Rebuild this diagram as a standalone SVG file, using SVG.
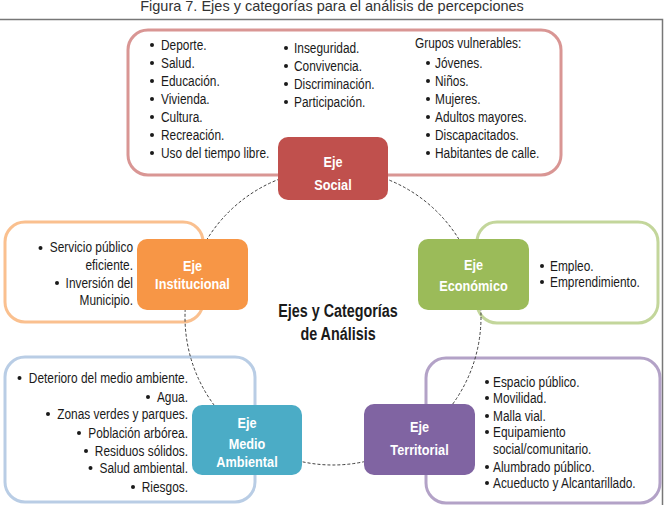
<svg xmlns="http://www.w3.org/2000/svg" width="664" height="505" viewBox="0 0 664 505">
<style>
.t{font-family:"Liberation Sans",Arial,sans-serif;font-size:14.5px;fill:#1a1a1a}
.r{text-anchor:end}
.n{font-family:"Liberation Sans",Arial,sans-serif;font-size:15.5px;font-weight:bold;fill:#fff;text-anchor:middle}
.c{font-family:"Liberation Sans",Arial,sans-serif;font-size:17.5px;font-weight:bold;fill:#1a1a1a;text-anchor:middle}
.title{font-family:"Liberation Sans",Arial,sans-serif;font-size:14.5px;fill:#333;text-anchor:middle}
.box{fill:none;stroke-width:3}
.b{fill:#1a1a1a}
</style>
<rect width="664" height="505" fill="#fff"/>
<text class="title" x="332" y="11">Figura 7. Ejes y categorías para el análisis de percepciones</text>
<path d="M0 19.5H662.5V505" fill="none" stroke="#777" stroke-width="1.5"/>

<g id="social-box">
<rect class="box" x="128" y="30" width="433" height="145" rx="20" stroke="#d99694"/>
<g class="b"><circle cx="152" cy="45" r="2"/><circle cx="152" cy="63" r="2"/><circle cx="152" cy="81" r="2"/><circle cx="152" cy="99" r="2"/><circle cx="152" cy="117" r="2"/><circle cx="152" cy="135" r="2"/><circle cx="152" cy="153" r="2"/>
<circle cx="286" cy="48" r="2"/><circle cx="286" cy="66" r="2"/><circle cx="286" cy="84" r="2"/><circle cx="286" cy="102" r="2"/>
<circle cx="428" cy="63" r="2"/><circle cx="428" cy="81" r="2"/><circle cx="428" cy="99" r="2"/><circle cx="428" cy="117" r="2"/><circle cx="428" cy="135" r="2"/><circle cx="428" cy="153" r="2"/></g>
<g transform="scale(0.82 1)">
<text class="t" x="196.34" y="50">Deporte.</text>
<text class="t" x="196.34" y="68">Salud.</text>
<text class="t" x="196.34" y="86">Educación.</text>
<text class="t" x="196.34" y="104">Vivienda.</text>
<text class="t" x="196.34" y="122">Cultura.</text>
<text class="t" x="196.34" y="140">Recreación.</text>
<text class="t" x="196.34" y="158">Uso del tiempo libre.</text>
<text class="t" x="358.54" y="53">Inseguridad.</text>
<text class="t" x="358.54" y="71">Convivencia.</text>
<text class="t" x="358.54" y="89">Discriminación.</text>
<text class="t" x="358.54" y="107">Participación.</text>
<text class="t" x="506.1" y="48">Grupos vulnerables:</text>
<text class="t" x="530.49" y="68">Jóvenes.</text>
<text class="t" x="530.49" y="86">Niños.</text>
<text class="t" x="530.49" y="104">Mujeres.</text>
<text class="t" x="530.49" y="122">Adultos mayores.</text>
<text class="t" x="530.49" y="140">Discapacitados.</text>
<text class="t" x="530.49" y="158">Habitantes de calle.</text>
</g>
</g>

<g id="institucional-box">
<rect class="box" x="5" y="222" width="198" height="100" rx="20" stroke="#fac08f"/>
<g class="b"><circle cx="40.5" cy="248" r="2"/><circle cx="57" cy="283" r="2"/></g>
<g transform="scale(0.82 1)">
<text class="t r" x="162.2" y="252">Servicio público</text>
<text class="t r" x="162.2" y="270">eficiente.</text>
<text class="t r" x="162.2" y="288">Inversión del</text>
<text class="t r" x="162.2" y="305">Municipio.</text>
</g>
</g>

<g id="economico-box">
<rect class="box" x="477" y="222" width="181" height="101" rx="20" stroke="#c3d69b"/>
<g class="b"><circle cx="542" cy="266" r="2"/><circle cx="542" cy="282" r="2"/></g>
<g transform="scale(0.82 1)">
<text class="t" x="670.73" y="271">Empleo.</text>
<text class="t" x="670.73" y="287">Emprendimiento.</text>
</g>
</g>

<g id="medio-box">
<rect class="box" x="5" y="357" width="250" height="145" rx="20" stroke="#b9cde5"/>
<g class="b"><circle cx="19.5" cy="378" r="2"/><circle cx="148" cy="397" r="2"/><circle cx="48" cy="414" r="2"/><circle cx="79" cy="433" r="2"/><circle cx="86" cy="451" r="2"/><circle cx="90.5" cy="468" r="2"/><circle cx="133" cy="487" r="2"/></g>
<g transform="scale(0.82 1)">
<text class="t r" x="229.27" y="383">Deterioro del medio ambiente.</text>
<text class="t r" x="229.27" y="402">Agua.</text>
<text class="t r" x="229.27" y="419">Zonas verdes y parques.</text>
<text class="t r" x="229.27" y="438">Población arbórea.</text>
<text class="t r" x="229.27" y="456">Residuos sólidos.</text>
<text class="t r" x="229.27" y="473">Salud ambiental.</text>
<text class="t r" x="229.27" y="492">Riesgos.</text>
</g>
</g>

<g id="territorial-box">
<rect class="box" x="426" y="358" width="234" height="145" rx="20" stroke="#b3a2c7"/>
<g class="b"><circle cx="487" cy="382" r="2"/><circle cx="487" cy="398" r="2"/><circle cx="487" cy="416" r="2"/><circle cx="487" cy="432" r="2"/><circle cx="487" cy="467" r="2"/><circle cx="487" cy="483" r="2"/></g>
<g transform="scale(0.82 1)">
<text class="t" x="601.22" y="387">Espacio público.</text>
<text class="t" x="601.22" y="403">Movilidad.</text>
<text class="t" x="601.22" y="421">Malla vial.</text>
<text class="t" x="601.22" y="437">Equipamiento</text>
<text class="t" x="601.22" y="454">social/comunitario.</text>
<text class="t" x="601.22" y="472">Alumbrado público.</text>
<text class="t" x="601.22" y="488">Acueducto y Alcantarillado.</text>
</g>
</g>

<g id="connectors">
<circle cx="333" cy="317" r="148" fill="none" stroke="#404040" stroke-width="1" stroke-dasharray="3 2"/>
</g>

<g id="center" transform="scale(0.82 1)">
<text class="c" x="412.2" y="317">Ejes y Categorías</text>
<text class="c" x="412.2" y="340">de Análisis</text>
</g>

<g id="eje-social">
<rect x="278" y="137" width="110" height="63" rx="10" fill="#c0504d"/>
<g transform="scale(0.82 1)">
<text class="n" x="406.1" y="167">Eje</text>
<text class="n" x="406.1" y="190">Social</text>
</g>
</g>
<g id="eje-institucional">
<rect x="137" y="239" width="111" height="71" rx="10" fill="#f79646"/>
<g transform="scale(0.82 1)">
<text class="n" x="234.76" y="271">Eje</text>
<text class="n" x="234.76" y="289">Institucional</text>
</g>
</g>
<g id="eje-economico">
<rect x="418" y="239" width="111" height="71" rx="10" fill="#9bbb59"/>
<g transform="scale(0.82 1)">
<text class="n" x="577.44" y="270">Eje</text>
<text class="n" x="577.44" y="291">Económico</text>
</g>
</g>
<g id="eje-medio">
<rect x="192" y="405" width="110" height="70" rx="10" fill="#4bacc6"/>
<g transform="scale(0.82 1)">
<text class="n" x="301.22" y="428">Eje</text>
<text class="n" x="301.22" y="449">Medio</text>
<text class="n" x="301.22" y="467">Ambiental</text>
</g>
</g>
<g id="eje-territorial">
<rect x="364" y="404" width="111" height="71" rx="10" fill="#8064a2"/>
<g transform="scale(0.82 1)">
<text class="n" x="511.59" y="432">Eje</text>
<text class="n" x="511.59" y="455">Territorial</text>
</g>
</g>
</svg>
